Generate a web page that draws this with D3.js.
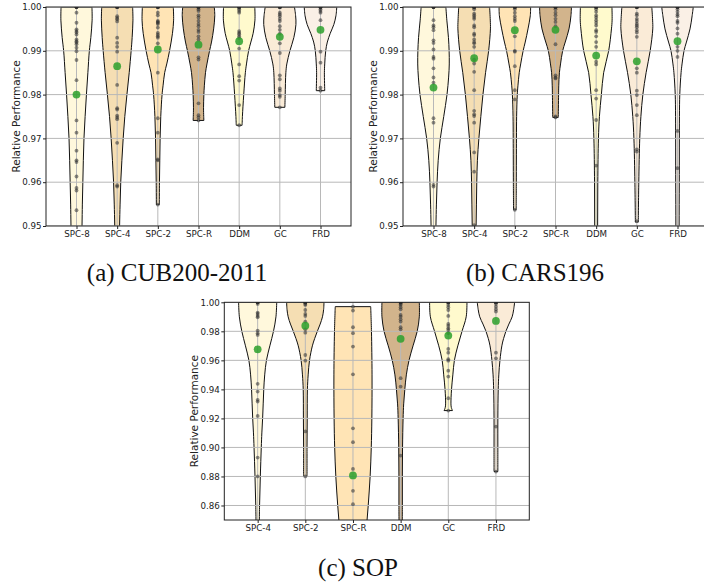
<!DOCTYPE html>
<html>
<head>
<meta charset="utf-8">
<script src="https://cdn.jsdelivr.net/npm/d3@7"></script>
<style>
  html, body { margin: 0; padding: 0; background: #fff; }
  svg { display: block; }
  .tick text { font-family: "DejaVu Sans", sans-serif; fill: #222; }
</style>
</head>
<body>
<svg id="fig" width="704" height="585"></svg>
<script>
// ---- categories, colours and ticks ----
const catsAB = ["SPC-8", "SPC-4", "SPC-2", "SPC-R", "DDM", "GC", "FRD"];
const catsC = ["SPC-4", "SPC-2", "SPC-R", "DDM", "GC", "FRD"];
const violinColors = ["#fff8dc", "#f5deb3", "#ffe4b5", "#d2b48c", "#fffacd", "#faebd7", "#faf0e6"];
const ticksAB = [0.95, 0.96, 0.97, 0.98, 0.99, 1.00];
const ticksC = [0.86, 0.88, 0.90, 0.92, 0.94, 0.96, 0.98, 1.00];
const captions = ["(a) CUB200-2011", "(b) CARS196", "(c) SOP"];

// ---- CUB200-2011: per-run relative performance ----
const cubPoints = [
  [1, 1, 1, 1, 1, 0.9987, 0.9964, 0.9949, 0.9945, 0.9942, 0.9937, 0.9926, 0.9922, 0.9919, 0.9915, 0.9907, 0.9899, 0.9879, 0.9833, 0.9741, 0.9713, 0.9672, 0.9650, 0.9646, 0.9613, 0.9587, 0.9581, 0.9536],
  [1, 1, 1, 1, 1, 0.9979, 0.9975, 0.9972, 0.9967, 0.9930, 0.9918, 0.9909, 0.9898, 0.9822, 0.9769, 0.9766, 0.9752, 0.9748, 0.9744, 0.9690, 0.9593, 0.9590],
  [1, 1, 1, 1, 1, 0.9987, 0.9981, 0.9968, 0.9966, 0.9964, 0.9961, 0.9953, 0.9941, 0.9937, 0.9933, 0.9930, 0.9917, 0.9850, 0.9746, 0.9713, 0.9652, 0.9650, 0.9549],
  [1, 1, 1, 1, 1, 0.9995, 0.9991, 0.9981, 0.9976, 0.9968, 0.9961, 0.9956, 0.9948, 0.9943, 0.9933, 0.9926, 0.9885, 0.9880, 0.9780, 0.9753, 0.9748, 0.9741],
  [1, 1, 1, 1, 1, 0.9995, 0.9991, 0.9987, 0.9945, 0.9941, 0.9938, 0.9933, 0.9929, 0.9905, 0.9869, 0.9842, 0.9832, 0.9776, 0.9730],
  [1, 1, 1, 1, 1, 0.9987, 0.9983, 0.9979, 0.9973, 0.9968, 0.9956, 0.9948, 0.9939, 0.9917, 0.9895, 0.9844, 0.9835, 0.9814, 0.9809, 0.9799, 0.9795, 0.9771],
  [1, 1, 1, 1, 1, 0.9995, 0.9991, 0.9987, 0.9970, 0.9898, 0.9873, 0.9816, 0.9809]
];
const cubMeans = [0.9800, 0.9865, 0.9903, 0.9914, 0.9922, 0.9932, 0.9948];
// violin outlines: [value, relative width]
const cubShapes = [
  [[1.0, 0.95], [0.997, 0.96], [0.993, 0.88], [0.99, 0.79], [0.985, 0.70], [0.98, 0.61], [0.975, 0.53], [0.97, 0.46], [0.965, 0.42], [0.96, 0.39], [0.955, 0.36], [0.95, 0.34], [0.94, 0.30]],
  [[1.0, 0.95], [0.997, 0.97], [0.993, 0.92], [0.99, 0.86], [0.985, 0.74], [0.98, 0.60], [0.975, 0.47], [0.97, 0.37], [0.965, 0.29], [0.96, 0.22], [0.955, 0.18], [0.95, 0.15], [0.94, 0.12]],
  [[1.0, 0.95], [0.997, 0.97], [0.994, 0.90], [0.99, 0.72], [0.987, 0.55], [0.985, 0.42], [0.982, 0.32], [0.98, 0.26], [0.975, 0.18], [0.97, 0.14], [0.965, 0.12], [0.96, 0.10], [0.9549, 0.09]],
  [[1.0, 0.97], [0.998, 1.0], [0.995, 0.93], [0.992, 0.80], [0.99, 0.68], [0.987, 0.52], [0.985, 0.43], [0.982, 0.36], [0.98, 0.33], [0.977, 0.31], [0.975, 0.32], [0.9741, 0.33]],
  [[1.0, 0.96], [0.997, 0.97], [0.994, 0.86], [0.992, 0.72], [0.99, 0.58], [0.987, 0.45], [0.985, 0.38], [0.98, 0.28], [0.975, 0.20], [0.973, 0.18]],
  [[1.0, 0.90], [0.998, 0.97], [0.996, 0.99], [0.993, 0.86], [0.99, 0.62], [0.987, 0.43], [0.985, 0.37], [0.98, 0.33], [0.9771, 0.31]],
  [[1.0, 1.0], [0.998, 0.95], [0.996, 0.82], [0.994, 0.60], [0.992, 0.42], [0.99, 0.32], [0.987, 0.26], [0.985, 0.24], [0.9809, 0.26]]
];

// ---- CARS196 ----
const carsPoints = [
  [1, 1, 1, 1, 1, 0.9970, 0.9958, 0.9954, 0.9947, 0.9924, 0.9918, 0.9903, 0.9886, 0.9882, 0.9860, 0.9839, 0.9827, 0.9746, 0.9736, 0.9594, 0.9590],
  [1, 1, 1, 1, 1, 0.9995, 0.9985, 0.9981, 0.9977, 0.9973, 0.9958, 0.9954, 0.9939, 0.9936, 0.9926, 0.9920, 0.9917, 0.9909, 0.9880, 0.9871, 0.9852, 0.9810, 0.9763, 0.9755, 0.9751, 0.9736, 0.9668, 0.9624, 0.9502],
  [1, 1, 1, 1, 1, 0.9995, 0.9987, 0.9979, 0.9973, 0.9968, 0.9933, 0.9900, 0.9898, 0.9865, 0.9810, 0.9789, 0.9537],
  [1, 1, 1, 1, 1, 0.9995, 0.9987, 0.9981, 0.9973, 0.9966, 0.9956, 0.9915, 0.9844, 0.9839, 0.9837, 0.9750, 0.9748],
  [1, 1, 1, 1, 1, 0.9995, 0.9989, 0.9981, 0.9976, 0.9970, 0.9964, 0.9958, 0.9947, 0.9943, 0.9933, 0.9920, 0.9909, 0.9875, 0.9869, 0.9810, 0.9791, 0.9742, 0.9638],
  [1, 1, 1, 1, 1, 0.9985, 0.9981, 0.9973, 0.9968, 0.9962, 0.9958, 0.9954, 0.9947, 0.9942, 0.9932, 0.9860, 0.9850, 0.9809, 0.9799, 0.9776, 0.9753, 0.9675, 0.9670, 0.9511],
  [1, 1, 1, 1, 1, 0.9995, 0.9989, 0.9983, 0.9979, 0.9968, 0.9964, 0.9951, 0.9939, 0.9909, 0.9900, 0.9886, 0.9717, 0.9632]
];
const carsMeans = [0.9816, 0.9883, 0.9947, 0.9948, 0.9889, 0.9876, 0.9922];
const carsShapes = [
  [[1.0, 0.76], [0.997, 0.82], [0.993, 0.92], [0.99, 0.96], [0.987, 0.97], [0.984, 0.93], [0.98, 0.83], [0.975, 0.63], [0.97, 0.42], [0.965, 0.29], [0.96, 0.22], [0.955, 0.18], [0.95, 0.15], [0.94, 0.11]],
  [[1.0, 0.95], [0.997, 0.99], [0.995, 1.0], [0.99, 0.89], [0.985, 0.70], [0.98, 0.54], [0.975, 0.41], [0.97, 0.29], [0.965, 0.20], [0.96, 0.16], [0.955, 0.14], [0.95, 0.12], [0.945, 0.11]],
  [[1.0, 0.97], [0.998, 0.95], [0.995, 0.81], [0.992, 0.64], [0.99, 0.51], [0.987, 0.36], [0.985, 0.27], [0.982, 0.19], [0.98, 0.15], [0.975, 0.11], [0.97, 0.10], [0.96, 0.09], [0.9537, 0.08]],
  [[1.0, 0.98], [0.998, 0.95], [0.995, 0.83], [0.992, 0.60], [0.99, 0.44], [0.987, 0.31], [0.985, 0.24], [0.982, 0.20], [0.98, 0.19], [0.9748, 0.17]],
  [[1.0, 0.97], [0.997, 0.98], [0.995, 0.94], [0.99, 0.77], [0.985, 0.46], [0.98, 0.32], [0.975, 0.20], [0.97, 0.14], [0.96, 0.10], [0.95, 0.09], [0.94, 0.08]],
  [[1.0, 0.92], [0.997, 0.97], [0.995, 0.98], [0.99, 0.82], [0.985, 0.57], [0.98, 0.37], [0.975, 0.25], [0.97, 0.18], [0.96, 0.12], [0.9509, 0.09]],
  [[1.0, 0.97], [0.998, 0.90], [0.995, 0.77], [0.992, 0.55], [0.99, 0.40], [0.987, 0.28], [0.985, 0.22], [0.98, 0.14], [0.975, 0.12], [0.96, 0.11], [0.95, 0.10], [0.94, 0.10]]
];

// ---- SOP ----
const sopPoints = [
  [1, 1, 1, 1, 1, 0.9989, 0.9929, 0.9920, 0.9906, 0.9897, 0.9805, 0.9787, 0.9775, 0.9438, 0.9385, 0.9328, 0.9316, 0.9217, 0.8930, 0.8800],
  [1, 1, 1, 1, 1, 0.9989, 0.9982, 0.9947, 0.9920, 0.9906, 0.9867, 0.9814, 0.9791, 0.9637, 0.9598, 0.9110, 0.8800],
  [0.9970, 0.9943, 0.9828, 0.9787, 0.9695, 0.9504, 0.9132, 0.9036, 0.8852, 0.8701, 0.8609],
  [1, 1, 1, 1, 1, 0.9989, 0.9982, 0.9966, 0.9952, 0.9913, 0.9901, 0.9883, 0.9867, 0.9828, 0.9814, 0.9477, 0.9419, 0.8944],
  [1, 1, 1, 1, 1, 0.9982, 0.9966, 0.9947, 0.9906, 0.9851, 0.9837, 0.9821, 0.9810, 0.9787, 0.9679, 0.9653, 0.9608, 0.9598, 0.9529, 0.9488, 0.9339, 0.9254],
  [1, 1, 1, 1, 1, 0.9989, 0.9970, 0.9952, 0.9936, 0.9653, 0.9614, 0.9144, 0.8834]
];
const sopMeans = [0.9676, 0.9839, 0.8807, 0.9748, 0.9771, 0.9872];
const sopShapes = [
  [[1.0, 1.0], [0.99, 0.96], [0.98, 0.83], [0.97, 0.64], [0.96, 0.46], [0.95, 0.37], [0.94, 0.32], [0.93, 0.29], [0.92, 0.26], [0.91, 0.22], [0.90, 0.19], [0.88, 0.14], [0.86, 0.10], [0.84, 0.08]],
  [[1.0, 0.98], [0.995, 0.96], [0.99, 0.90], [0.985, 0.78], [0.98, 0.63], [0.975, 0.49], [0.97, 0.37], [0.96, 0.22], [0.95, 0.15], [0.94, 0.11], [0.92, 0.10], [0.90, 0.09], [0.88, 0.09]],
  [[0.997, 0.93], [0.98, 0.97], [0.95, 1.0], [0.92, 0.99], [0.90, 0.96], [0.88, 0.90], [0.86, 0.80], [0.84, 0.68], [0.82, 0.55]],
  [[1.0, 0.98], [0.99, 0.98], [0.98, 0.87], [0.97, 0.65], [0.96, 0.44], [0.95, 0.30], [0.94, 0.22], [0.93, 0.16], [0.92, 0.13], [0.90, 0.10], [0.88, 0.09], [0.86, 0.09], [0.84, 0.08]],
  [[1.0, 0.98], [0.99, 0.94], [0.98, 0.72], [0.97, 0.50], [0.96, 0.32], [0.95, 0.24], [0.94, 0.17], [0.93, 0.14], [0.9275, 0.16], [0.9254, 0.22]],
  [[1.0, 0.98], [0.995, 0.93], [0.99, 0.85], [0.985, 0.68], [0.98, 0.52], [0.975, 0.40], [0.97, 0.31], [0.96, 0.21], [0.95, 0.15], [0.94, 0.12], [0.92, 0.10], [0.90, 0.10], [0.8834, 0.10]]
];

const svg = d3.select("#fig");

function drawPanel(cfg) {
  const { id, box, cats, points, means, shapes, yDomain, yTicks, xPad } = cfg;
  const g = svg.append("g");
  const x = d3.scaleLinear().domain([1 - xPad, cats.length + xPad]).range([box.left, box.right]);
  const y = d3.scaleLinear().domain(yDomain).range([box.bottom, box.top]);
  const halfMax = (x(1.4) - x(1));

  g.append("clipPath").attr("id", "clip-" + id)
    .append("rect")
    .attr("x", box.left).attr("y", box.top)
    .attr("width", box.right - box.left).attr("height", box.bottom - box.top);

  const plot = g.append("g").attr("clip-path", `url(#clip-${id})`);

  // violin bodies
  cats.forEach((c, i) => {
    const cx = x(i + 1);
    const prof = shapes[i].slice().sort((a, b) => b[0] - a[0]);
    const area = d3.area()
      .curve(d3.curveCatmullRom.alpha(0.5))
      .y(d => y(d[0]))
      .x0(d => cx - d[1] * halfMax)
      .x1(d => cx + d[1] * halfMax);
    plot.append("path")
      .attr("d", area(prof))
      .attr("fill", violinColors[i])
      .attr("stroke", "#111")
      .attr("stroke-width", 1);
  });

  // grid
  const grid = plot.append("g").attr("stroke", "#b8b8b8").attr("stroke-width", 1);
  yTicks.forEach(t => {
    grid.append("line").attr("x1", box.left).attr("x2", box.right)
      .attr("y1", y(t)).attr("y2", y(t));
  });
  cats.forEach((c, i) => {
    grid.append("line").attr("x1", x(i + 1)).attr("x2", x(i + 1))
      .attr("y1", box.top).attr("y2", box.bottom);
  });

  // samples
  cats.forEach((c, i) => {
    plot.append("g").selectAll("circle").data(points[i]).join("circle")
      .attr("cx", x(i + 1)).attr("cy", d => y(d)).attr("r", 1.9)
      .attr("fill", "#2e2e2e").attr("fill-opacity", 0.55);
  });

  // means
  plot.append("g").selectAll("circle").data(means).join("circle")
    .attr("cx", (d, i) => x(i + 1)).attr("cy", d => y(d)).attr("r", 3.9)
    .attr("fill", "#2ca02c").attr("fill-opacity", 0.85);

  // frame
  g.append("rect")
    .attr("x", box.left).attr("y", box.top)
    .attr("width", box.right - box.left).attr("height", box.bottom - box.top)
    .attr("fill", "none").attr("stroke", "#222").attr("stroke-width", 1);

  // axes
  const yAxis = d3.axisLeft(y).tickValues(yTicks).tickFormat(d3.format(".2f"))
    .tickSize(3).tickPadding(1.5);
  g.append("g").attr("transform", `translate(${box.left},0)`).call(yAxis)
    .call(a => a.select(".domain").remove())
    .call(a => a.selectAll(".tick text").style("font-size", "8.7px"))
    .call(a => a.selectAll(".tick line").attr("stroke", "#222"));

  const xAxis = d3.axisBottom(x).tickValues(d3.range(1, cats.length + 1))
    .tickFormat(d => cats[d - 1]).tickSize(3).tickPadding(1.5);
  g.append("g").attr("transform", `translate(0,${box.bottom})`).call(xAxis)
    .call(a => a.select(".domain").remove())
    .call(a => a.selectAll(".tick text").style("font-size", "8.7px"))
    .call(a => a.selectAll(".tick line").attr("stroke", "#222"));

  g.append("text")
    .attr("transform", `translate(${cfg.labelX},${(box.top + box.bottom) / 2}) rotate(-90)`)
    .attr("text-anchor", "middle")
    .attr("dy", "0.35em")
    .style("font-family", "DejaVu Sans, sans-serif")
    .style("font-size", "10.5px")
    .attr("fill", "#222")
    .text("Relative Performance");
}

drawPanel({
  id: "a", box: { left: 46, right: 351, top: 7, bottom: 226 },
  cats: catsAB, points: cubPoints, means: cubMeans, shapes: cubShapes,
  yDomain: [0.95, 1.0], yTicks: ticksAB, xPad: 0.75, labelX: 16
});
drawPanel({
  id: "b", box: { left: 403, right: 708, top: 7, bottom: 226 },
  cats: catsAB, points: carsPoints, means: carsMeans, shapes: carsShapes,
  yDomain: [0.95, 1.0], yTicks: ticksAB, xPad: 0.75, labelX: 373
});
drawPanel({
  id: "c", box: { left: 224.3, right: 529.3, top: 302.3, bottom: 520 },
  cats: catsC, points: sopPoints, means: sopMeans, shapes: sopShapes,
  yDomain: [0.85, 1.0], yTicks: ticksC, xPad: 0.7, labelX: 194.5
});

// sub-figure captions
const capPos = [[177, 281], [535, 281], [358, 576]];
svg.selectAll("text.caption").data(captions).join("text")
  .attr("class", "caption")
  .attr("x", (d, i) => capPos[i][0]).attr("y", (d, i) => capPos[i][1])
  .attr("text-anchor", "middle")
  .style("font-family", "Liberation Serif, serif")
  .style("font-size", "25px")
  .attr("fill", "#111")
  .text(d => d);
</script>
</body>
</html>
